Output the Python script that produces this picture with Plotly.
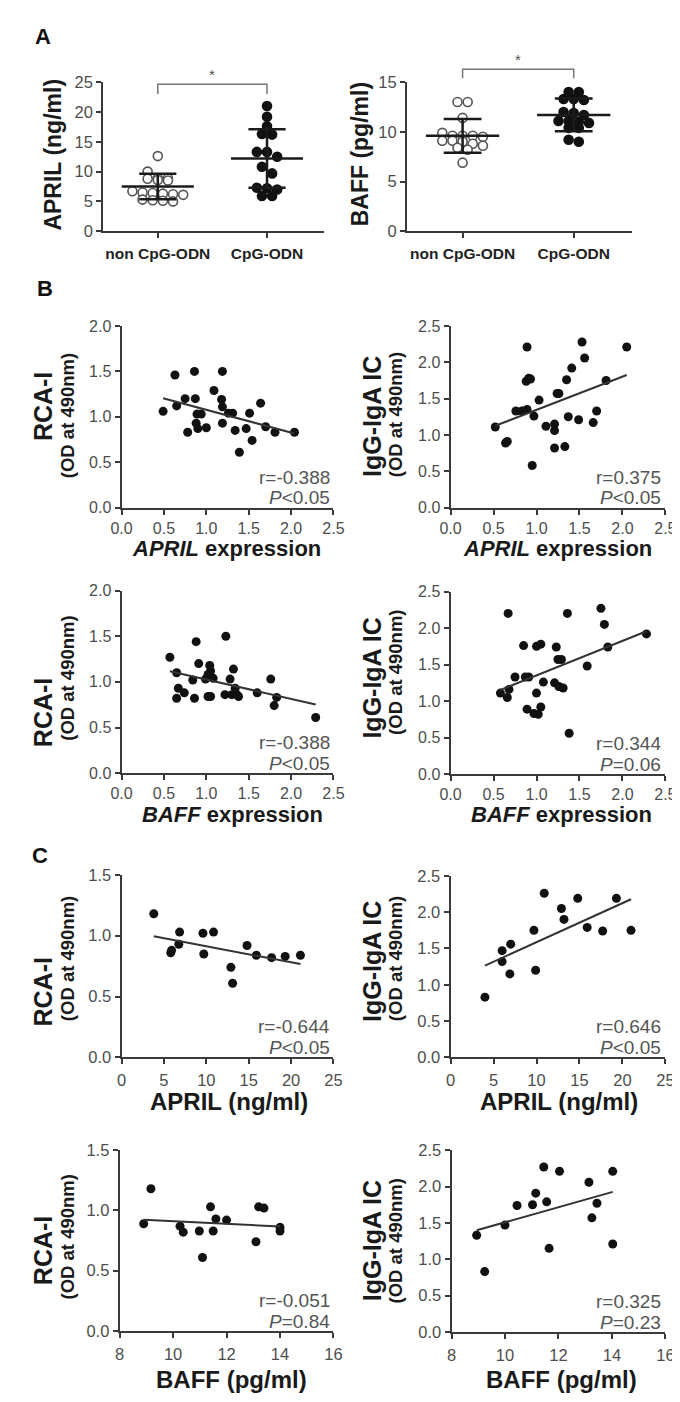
import numpy as np
import plotly.graph_objects as go

W, H = 680, 1402
FONT = "Liberation Sans"
AX = "#3a3a3a"
TICK = "#4d4d4d"

# ---------------- Panel A data ----------------
groups = ["non CpG-ODN", "CpG-ODN"]
april_non = [12.6, 10.0, 8.9, 8.9, 8.8, 8.6, 8.5, 6.7, 6.5, 6.4, 6.3, 6.2, 6.1, 5.3, 5.2, 5.1, 5.0]
april_cpg = [21.0, 19.2, 17.6, 16.3, 16.2, 13.3, 13.3, 12.5, 10.8, 9.7, 7.3, 7.2, 7.0, 5.9, 5.9]
april_mean = [7.5, 12.2]
april_sd = [2.15, 4.9]
baff_non = [13.0, 13.0, 11.4, 9.9, 9.6, 9.6, 9.6, 9.5, 9.1, 9.1, 9.0, 8.8, 8.6, 8.4, 8.2, 6.9]
baff_cpg = [14.0, 14.0, 13.3, 13.3, 13.2, 12.0, 11.9, 11.7, 11.1, 11.1, 11.0, 10.9, 10.4, 10.4, 9.2, 9.0]
baff_mean = [9.6, 11.7]
baff_sd = [1.7, 1.65]

# ---------------- Panel B data ----------------
b_april_rca_x = [0.49, 0.63, 0.65, 0.75, 0.78, 0.86, 0.87, 0.88, 0.89, 0.90, 0.94, 1.00, 1.09, 1.19, 1.18, 1.19, 1.19,
                 1.26, 1.31, 1.34, 1.47, 1.51, 1.54, 1.39, 1.64, 1.70, 1.81, 2.04]
b_april_rca_y = [1.06, 1.46, 1.12, 1.20, 0.83, 1.50, 1.20, 0.93, 1.03, 0.87, 1.03, 0.88, 1.29, 1.50, 1.19, 1.11, 0.93,
                 1.04, 1.04, 0.85, 0.87, 1.04, 0.74, 0.61, 1.15, 0.89, 0.83, 0.83]
b_april_igg_x = [0.52, 0.64, 0.66, 0.76, 0.83, 0.89, 0.88, 0.91, 0.93, 0.89, 0.95, 0.97, 1.03, 1.11, 1.21, 1.21, 1.21,
                 1.24, 1.26, 1.33, 1.35, 1.37, 1.41, 1.49, 1.53, 1.56, 1.66, 1.70, 1.81, 2.05]
b_april_igg_y = [1.11, 0.89, 0.91, 1.33, 1.33, 2.21, 1.74, 1.78, 1.77, 1.35, 0.58, 1.26, 1.48, 1.12, 1.15, 1.06, 0.82,
                 1.57, 1.57, 0.84, 1.76, 1.25, 1.92, 1.21, 2.28, 2.06, 1.17, 1.33, 1.75, 2.21]
b_baff_rca_x = [0.57, 0.65, 0.65, 0.67, 0.74, 0.88, 0.91, 0.84, 0.86, 0.99, 1.02, 1.04, 1.05, 1.08, 1.02, 1.05, 1.23,
                1.32, 1.28, 1.22, 1.30, 1.36, 1.38, 1.34, 1.60, 1.76, 1.80, 1.83, 2.29]
b_baff_rca_y = [1.27, 1.10, 0.82, 0.93, 0.88, 1.44, 1.20, 1.02, 0.82, 1.03, 1.08, 1.18, 1.12, 1.04, 0.84, 0.84, 1.50,
                1.14, 1.03, 0.86, 0.86, 0.86, 0.84, 0.93, 0.88, 1.03, 0.74, 0.83, 0.61]
b_baff_igg_x = [0.58, 0.68, 0.66, 0.67, 0.75, 0.85, 0.87, 0.91, 0.89, 1.00, 1.05, 0.97, 1.02, 1.05, 1.00, 1.08, 1.23,
                1.21, 1.25, 1.29, 1.26, 1.31, 1.36, 1.38, 1.59, 1.75, 1.79, 1.83, 2.28]
b_baff_igg_y = [1.11, 1.16, 1.05, 2.20, 1.33, 1.76, 1.33, 1.33, 0.89, 1.75, 1.78, 0.83, 0.82, 0.92, 1.11, 1.26, 1.74,
                1.25, 1.57, 1.57, 1.20, 1.18, 2.20, 0.56, 1.48, 2.27, 2.05, 1.74, 1.92]

# ---------------- Panel C data ----------------
c_april_rca_x = [3.8, 5.8, 5.9, 6.85, 6.75, 9.6, 9.7, 10.85, 12.9, 13.1, 14.8, 15.9, 17.7, 19.3, 21.1]
c_april_rca_y = [1.18, 0.86, 0.88, 1.03, 0.93, 1.02, 0.85, 1.03, 0.74, 0.61, 0.92, 0.84, 0.82, 0.83, 0.84]
c_april_igg_x = [4.0, 6.0, 6.0, 7.0, 6.9, 9.7, 9.9, 10.9, 12.9, 13.2, 14.8, 15.9, 17.7, 19.3, 21.0]
c_april_igg_y = [0.83, 1.47, 1.32, 1.56, 1.15, 1.75, 1.20, 2.26, 2.05, 1.90, 2.19, 1.79, 1.74, 2.19, 1.75]
c_baff_rca_x = [8.9, 9.17, 10.26, 10.38, 10.98, 11.1, 11.4, 11.5, 11.6, 12.0, 13.1, 13.2, 13.4, 14.0, 14.0]
c_baff_rca_y = [0.89, 1.18, 0.87, 0.82, 0.83, 0.61, 1.03, 0.83, 0.93, 0.92, 0.74, 1.03, 1.02, 0.86, 0.83]
c_baff_igg_x = [8.94, 9.24, 10.0, 10.45, 11.03, 11.15, 11.45, 11.56, 11.65, 12.04, 13.14, 13.25, 13.44, 14.03, 14.03]
c_baff_igg_y = [1.33, 0.83, 1.47, 1.74, 1.75, 1.91, 2.27, 1.79, 1.15, 2.21, 2.06, 1.57, 1.77, 2.21, 1.21]

stat_r = ["r=-0.388", "r=0.375", "r=-0.388", "r=0.344", "r=-0.644", "r=0.646", "r=-0.051", "r=0.325"]
stat_p = ["<i>P</i>&lt;0.05", "<i>P</i>&lt;0.05", "<i>P</i>&lt;0.05", "<i>P</i>=0.06",
          "<i>P</i>&lt;0.05", "<i>P</i>&lt;0.05", "<i>P</i>=0.84", "<i>P</i>=0.23"]

ticks_b_x = [0, 0.5, 1.0, 1.5, 2.0, 2.5]
ticks_y_20 = [0, 0.5, 1.0, 1.5, 2.0]
ticks_y_25 = [0, 0.5, 1.0, 1.5, 2.0, 2.5]
ticks_y_15 = [0, 0.5, 1.0, 1.5]
ticks_c_april = [0, 5, 10, 15, 20, 25]
ticks_c_baff = [8, 10, 12, 14, 16]

# ---------------- layout helpers ----------------
fig = go.Figure()
layout = dict(width=W, height=H, autosize=False, margin=dict(l=0, r=0, t=0, b=0),
              paper_bgcolor="white", plot_bgcolor="white", showlegend=False,
              font=dict(family=FONT, color="#222"))
annotations = []
shapes = []


def sfx(i):
    return "" if i == 1 else str(i)


def px2fx(px):
    return px / W


def py2fy(py):
    return 1 - py / H


def add_axes(i, box, xr, yr, xt, yt, xfmt=None, yfmt=None, xticktext=None, xtickfont=None,
             tsize=16, xstand=0):
    x0, x1, y0, y1 = box  # pixel box: left, right, top, bottom
    common = dict(showline=True, linecolor=AX, linewidth=2, ticks="outside", ticklen=5, tickwidth=2,
                  tickcolor=AX, showgrid=False, zeroline=False, fixedrange=True,
                  tickfont=dict(family=FONT, size=tsize, color=TICK))
    xa = dict(common, domain=[px2fx(x0), px2fx(x1)], range=xr, tickvals=xt, anchor=f"y{sfx(i)}",
              ticklabelstandoff=xstand)
    if xfmt:
        xa["tickformat"] = xfmt
    if xticktext:
        xa["ticktext"] = xticktext
    if xtickfont:
        xa["tickfont"] = xtickfont
    ya = dict(common, domain=[py2fy(y1), py2fy(y0)], range=yr, tickvals=yt, anchor=f"x{sfx(i)}")
    if yfmt:
        ya["tickformat"] = yfmt
    layout[f"xaxis{sfx(i)}"] = xa
    layout[f"yaxis{sfx(i)}"] = ya


def swarm_offsets(vals, px_per_y, px_per_x, d=10.5, thr=7.0):
    vals = np.asarray(vals, float)
    order = np.argsort(-vals)
    offs = np.zeros(len(vals))
    grp = []
    first = None
    groups_ = []
    for idx in order:
        if first is None or (first - vals[idx]) * px_per_y > thr:
            if grp:
                groups_.append(grp)
            grp = [idx]
            first = vals[idx]
        else:
            grp.append(idx)
    if grp:
        groups_.append(grp)
    for g in groups_:
        n = len(g)
        for k, idx in enumerate(g):
            offs[idx] = (k - (n - 1) / 2) * d / px_per_x
    return offs


def add_dotplot(i, box, yr, ytv, data_non, data_cpg, means, sds, title, bracket_px, star_px, ytitle_x):
    x0, x1, y0, y1 = box
    xr = [-0.5, 1.52]
    s = sfx(i)
    add_axes(i, box, xr, yr, [0, 1], ytv,
             xticktext=[f"<b>{g}</b>" for g in groups],
             xtickfont=dict(family=FONT, size=15.5, color="#222"), tsize=16.5, xstand=2)
    pxx = (x1 - x0) / (xr[1] - xr[0])
    pxy = (y1 - y0) / (yr[1] - yr[0])
    for c, vals, filled in [(0, data_non, False), (1, data_cpg, True)]:
        offs = swarm_offsets(vals, pxy, pxx)
        fig.add_trace(go.Scatter(
            x=c + offs, y=vals, mode="markers", xaxis=f"x{s}", yaxis=f"y{s}", cliponaxis=False,
            marker=dict(size=9, color="#111" if filled else "white",
                        line=dict(color="#111" if filled else "#555", width=1.6)),
            hoverinfo="skip"))
    lx, ly = [], []
    for c, m, sd in zip([0, 1], means, sds):
        lx += [c - 0.33, c + 0.33, None, c, c, None, c - 0.17, c + 0.17, None, c - 0.17, c + 0.17, None]
        ly += [m, m, None, m - sd, m + sd, None, m + sd, m + sd, None, m - sd, m - sd, None]
    fig.add_trace(go.Scatter(x=lx, y=ly, mode="lines", xaxis=f"x{s}", yaxis=f"y{s}",
                             line=dict(color="#1a1a1a", width=2.5), hoverinfo="skip"))

    def fx(v):
        return (v - xr[0]) / (xr[1] - xr[0])

    def fy(p):
        return (y1 - p) / (y1 - y0)
    bt, bb = bracket_px
    shapes.append(dict(type="path", xref=f"x{s} domain", yref=f"y{s} domain",
                       path=f"M {fx(0)},{fy(bb)} L {fx(0)},{fy(bt)} L {fx(1)},{fy(bt)} L {fx(1)},{fy(bb)}",
                       line=dict(color="#777", width=1.5)))
    annotations.append(dict(text="*", xref=f"x{s} domain", yref=f"y{s} domain", x=fx(0.5), y=fy(star_px),
                            showarrow=False, font=dict(family=FONT, size=15, color="#555"),
                            xanchor="center", yanchor="middle"))
    annotations.append(dict(text=f"<b>{title}</b>", xref="paper", yref="paper", x=px2fx(ytitle_x),
                            y=py2fy((y0 + y1) / 2 - 2), textangle=-90, showarrow=False,
                            font=dict(family=FONT, size=23, color="#1a1a1a"),
                            xanchor="center", yanchor="middle"))


def add_scatter(i, box, xr, yr, xt, yt, xfmt, xs, ys, ytitle, xtitle, xtitle_pos, xtitle_size,
                r_txt, p_txt, ytitle_pos, tsize=16, xstand=0):
    x0, x1, y0, y1 = box
    s = sfx(i)
    add_axes(i, box, xr, yr, xt, yt, xfmt=xfmt, yfmt=".1f", tsize=tsize, xstand=xstand)
    fig.add_trace(go.Scatter(x=xs, y=ys, mode="markers", xaxis=f"x{s}", yaxis=f"y{s}", cliponaxis=False,
                             marker=dict(size=9, color="#111"), hoverinfo="skip"))
    k, b = np.polyfit(xs, ys, 1)
    fxv = np.array([min(xs), max(xs)])
    fig.add_trace(go.Scatter(x=fxv, y=k * fxv + b, mode="lines", xaxis=f"x{s}", yaxis=f"y{s}",
                             line=dict(color="#333", width=2), hoverinfo="skip"))
    mx, my, sx, sy = ytitle_pos
    annotations.append(dict(text=f"<b>{ytitle}</b>", xref="paper", yref="paper", x=px2fx(mx),
                            y=py2fy(my), textangle=-90, showarrow=False,
                            font=dict(family=FONT, size=25, color="#1a1a1a"),
                            xanchor="center", yanchor="middle"))
    annotations.append(dict(text="<b>(OD at 490nm)</b>", xref="paper", yref="paper", x=px2fx(sx),
                            y=py2fy(sy), textangle=-90, showarrow=False,
                            font=dict(family=FONT, size=18.5, color="#1a1a1a"),
                            xanchor="center", yanchor="middle"))
    tx, ty = xtitle_pos
    annotations.append(dict(text=xtitle, xref="paper", yref="paper", x=px2fx(tx), y=py2fy(ty),
                            showarrow=False, font=dict(family=FONT, size=xtitle_size, color="#1a1a1a"),
                            xanchor="center", yanchor="middle"))
    annotations.append(dict(text=r_txt, xref="paper", yref="paper", x=px2fx(x1 - 2), y=py2fy(y1 - 31),
                            showarrow=False, font=dict(family=FONT, size=19, color="#555"),
                            xanchor="right", yanchor="middle"))
    annotations.append(dict(text=p_txt, xref="paper", yref="paper", x=px2fx(x1 - 2), y=py2fy(y1 - 10),
                            showarrow=False, font=dict(family=FONT, size=19, color="#555"),
                            xanchor="right", yanchor="middle"))


# Panel A
add_dotplot(1, (87, 315, 66, 217), [0, 25], [0, 5, 10, 15, 20, 25], april_non, april_cpg,
            april_mean, april_sd, "APRIL (ng/ml)", (68, 78), 58, 35)
add_dotplot(2, (401, 633, 66, 217), [0, 15], [0, 5, 10, 15], baff_non, baff_cpg,
            baff_mean, baff_sd, "BAFF (pg/ml)", (53, 62), 43, 352)

LX, LS = 25, 50     # left-column y-title x centres (main, sub)
RX, RS = 365, 389   # right-column y-title x centres (main, sub)

# Panel B
add_scatter(3, (106, 325, 313, 497), [0, 2.5], [0, 2.0], ticks_b_x, ticks_y_20, ".1f",
            b_april_rca_x, b_april_rca_y, "RCA-I", "<b><i>APRIL</i> expression</b>", (214, 538), 22,
            stat_r[0], stat_p[0], (LX, 395, LS, 404))
add_scatter(4, (446, 668, 313, 497), [0, 2.5], [0, 2.5], ticks_b_x, ticks_y_25, ".1f",
            b_april_igg_x, b_april_igg_y, "IgG-IgA IC", "<b><i>APRIL</i> expression</b>", (556, 538), 22,
            stat_r[1], stat_p[1], (RX, 405, RS, 403))
add_scatter(5, (106, 325, 581, 766), [0, 2.5], [0, 2.0], ticks_b_x, ticks_y_20, ".1f",
            b_baff_rca_x, b_baff_rca_y, "RCA-I", "<b><i>BAFF</i> expression</b>", (221, 808), 22,
            stat_r[2], stat_p[2], (LX, 705, LS, 670))
add_scatter(6, (446, 668, 582, 767), [0, 2.5], [0, 2.5], ticks_b_x, ticks_y_25, ".1f",
            b_baff_igg_x, b_baff_igg_y, "IgG-IgA IC", "<b><i>BAFF</i> expression</b>", (561, 808), 22,
            stat_r[3], stat_p[3], (RX, 670, RS, 664))

# Panel C
add_scatter(7, (106, 325, 869, 1054), [0, 25], [0, 1.5], ticks_c_april, ticks_y_15, "d",
            c_april_rca_x, c_april_rca_y, "RCA-I", "<b>APRIL (ng/ml)</b>", (217, 1099), 24,
            stat_r[4], stat_p[4], (LX, 988, LS, 954), tsize=16.5, xstand=2)
add_scatter(8, (446, 668, 870, 1054), [0, 25], [0, 2.5], ticks_c_april, ticks_y_25, "d",
            c_april_igg_x, c_april_igg_y, "IgG-IgA IC", "<b>APRIL (ng/ml)</b>", (558, 1099), 24,
            stat_r[5], stat_p[5], (RX, 957, RS, 954), tsize=16.5, xstand=2)
add_scatter(9, (104, 325, 1148, 1331), [8, 16], [0, 1.5], ticks_c_baff, ticks_y_15, "d",
            c_baff_rca_x, c_baff_rca_y, "RCA-I", "<b>BAFF (pg/ml)</b>", (220, 1380), 24,
            stat_r[6], stat_p[6], (LX, 1250, LS, 1236), tsize=16.5, xstand=2)
add_scatter(10, (447, 668, 1148, 1332), [8, 16], [0, 2.5], ticks_c_baff, ticks_y_25, "d",
            c_baff_igg_x, c_baff_igg_y, "IgG-IgA IC", "<b>BAFF (pg/ml)</b>", (561, 1380), 24,
            stat_r[7], stat_p[7], (RX, 1240, RS, 1240), tsize=16.5, xstand=2)

# panel letters
for lab, (lx, ly) in {"A": (25, 20), "B": (27, 275), "C": (22, 849)}.items():
    annotations.append(dict(text=f"<b>{lab}</b>", xref="paper", yref="paper", x=px2fx(lx), y=py2fy(ly),
                            showarrow=False, font=dict(family=FONT, size=22, color="#111"),
                            xanchor="center", yanchor="middle"))

layout["annotations"] = annotations
layout["shapes"] = shapes
fig.update_layout(**layout)
fig.write_html("out.html")
